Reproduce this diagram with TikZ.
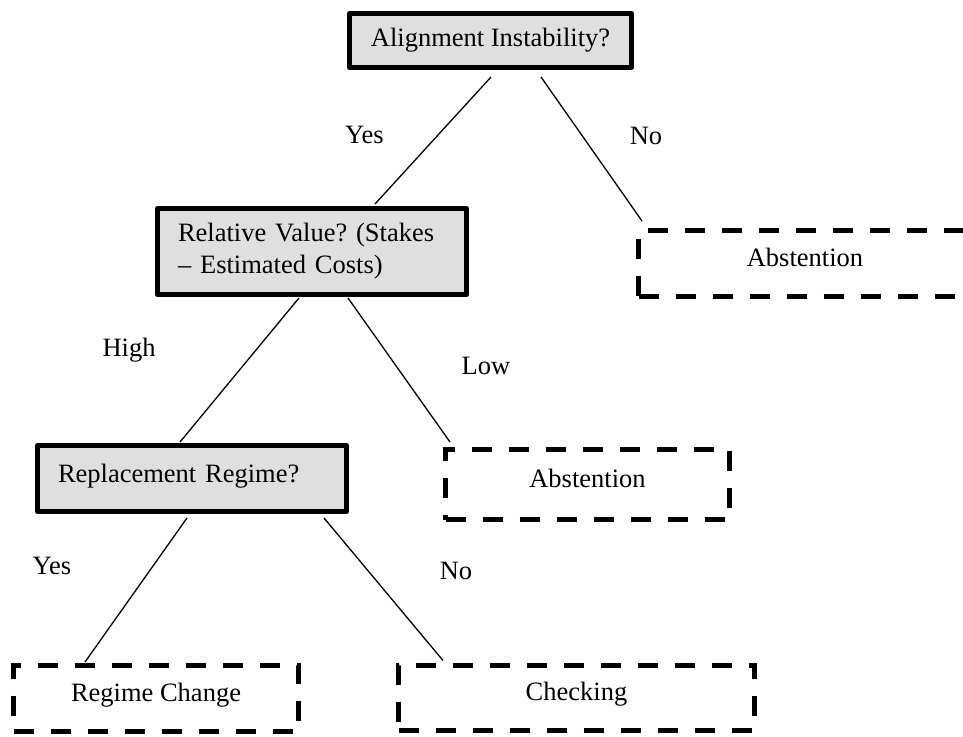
\documentclass[tikz,border=0pt]{standalone}
\usepackage{fontspec}
\setmainfont{Liberation Serif}
\definecolor{boxgray}{RGB}{223,223,223}
\frenchspacing
\begin{document}
\begin{tikzpicture}[x=1pt,y=-1pt,
  every node/.style={font=\fontsize{26.5}{32}\selectfont},
  qbox/.style={draw=black, line width=5pt, fill=boxgray, inner sep=0pt, line join=round},
  dbox/.style={draw=black, line width=5pt, dash pattern=on 20pt off 17pt, inner sep=0pt,
               text height=18pt, text depth=13pt},
  conn/.style={line width=1.3pt},
  lbl/.style={inner sep=0pt}]
\useasboundingbox (0,0) rectangle (963,736);
\clip (0,0) rectangle (963,736);

% decision boxes
\node[qbox, minimum width=282pt, minimum height=54pt, align=center] (q1) at (490.5,40.5) {Alignment Instability?};
\node[qbox, minimum width=309pt, minimum height=86pt, text width=268pt, inner xsep=20.5pt, align=left] (q2) at (312,251.5) {Relative Value? (Stakes\\-- Estimated Costs)};
\node[qbox, minimum width=309pt, minimum height=66pt, text width=268pt, inner xsep=20.5pt, align=left, text depth=11pt] (q3) at (192,478.5) {Replacement Regime?};

% outcome boxes
\node[dbox, minimum width=333pt, minimum height=66pt] (a1) at (805,263.5) {Abstention};
\node[dbox, minimum width=284pt, minimum height=70pt] (a2) at (587.5,484.5) {Abstention};
\node[dbox, minimum width=285pt, minimum height=66pt] (rc) at (156,698.5) {Regime Change};
\node[dbox, minimum width=356pt, minimum height=65pt] (ch) at (576.5,697.5) {Checking};

% connectors
\draw[conn] ([xshift=0.5pt,yshift=-7pt]q1.south) -- ([xshift=63pt,yshift=2pt]q2.north);
\draw[conn] ([xshift=50.5pt,yshift=-7pt]q1.south) -- ([xshift=6pt,yshift=7pt]a1.north west);
\draw[conn] ([xshift=-13pt,yshift=-1pt]q2.south) -- ([xshift=-12pt,yshift=1pt]q3.north);
\draw[conn] ([xshift=36pt,yshift=-1pt]q2.south) -- ([xshift=7pt,yshift=5pt]a2.north west);
\draw[conn] ([xshift=-5pt,yshift=-4pt]q3.south) -- ([xshift=74pt,yshift=1pt]rc.north west);
\draw[conn] ([xshift=132pt,yshift=-4pt]q3.south) -- ([xshift=47pt,yshift=2pt]ch.north west);

% labels
\node[lbl] (l1) at (364.5,134.5) {Yes};
\node[lbl] (l2) at (646,136) {No};
\node[lbl] (l3) at (129,350) {High};
\node[lbl] (l4) at (486,366) {Low};
\node[lbl] (l5) at (52,566) {Yes};
\node[lbl] (l6) at (456,571) {No};
\end{tikzpicture}
\end{document}
